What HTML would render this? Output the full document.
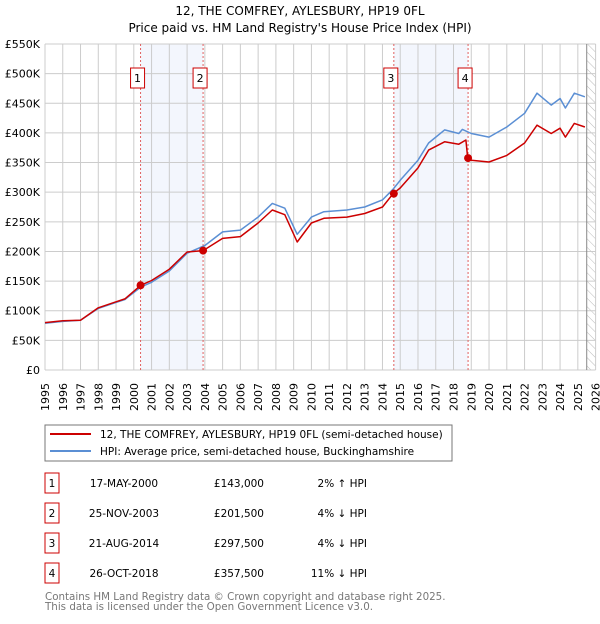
<!DOCTYPE html>
<html><head><meta charset="utf-8"><style>
body{margin:0;background:#fff;font-family:"DejaVu Sans","Liberation Sans",sans-serif;}
svg text{font-family:"DejaVu Sans","Liberation Sans",sans-serif;}
</style></head><body>
<svg id="c" width="600" height="620" viewBox="0 0 600 620">
<defs><pattern id="hatch" width="6" height="6" patternUnits="userSpaceOnUse" patternTransform="rotate(-45)"><line x1="0" y1="0" x2="0" y2="6" stroke="#bbb" stroke-width="1"/></pattern></defs>
<text x="300" y="15" text-anchor="middle" font-size="12">12, THE COMFREY, AYLESBURY, HP19 0FL</text>
<text x="300" y="32" text-anchor="middle" font-size="12">Price paid vs. HM Land Registry's House Price Index (HPI)</text>
<g id="plot"></g>
<g>
<rect x="45" y="425" width="407" height="36" fill="#fff" stroke="#777" stroke-width="1"/>
<line x1="50" y1="434" x2="91" y2="434" stroke="#cc0000" stroke-width="2"/>
<text x="100" y="438" font-size="10.5">12, THE COMFREY, AYLESBURY, HP19 0FL (semi-detached house)</text>
<line x1="50" y1="451" x2="91" y2="451" stroke="#5b8fd4" stroke-width="2"/>
<text x="100" y="455" font-size="10.5">HPI: Average price, semi-detached house, Buckinghamshire</text>
</g>
<g id="table"></g>
<text x="45" y="600" font-size="10.3" fill="#777">Contains HM Land Registry data © Crown copyright and database right 2025.</text>
<text x="45" y="610" font-size="10.3" fill="#777">This data is licensed under the Open Government Licence v3.0.</text>
</svg>
<script>
const hpiYears=[1995,1996,1997,1998,1999,1999.5,2000.4,2001,2002,2003,2004,2005,2006,2007,2007.8,2008.5,2009.2,2010,2010.7,2012,2013,2014,2014.6,2015,2016,2016.6,2017.5,2018.3,2018.5,2019,2020,2021,2022,2022.7,2023.5,2024,2024.3,2024.8,2025.4];
const hpiValues=[79,82,84,104,114,119,140,148,167,197,210,233,236,258,281,273,229,258,267,270,275,287,305,320,354,383,405,399,406,399,393,410,433,467,447,458,442,467,461];
const propYears=[1995,1996,1997,1998,1999,1999.5,2000.4,2001,2002,2003,2003.9,2005,2006,2007,2007.8,2008.5,2009.2,2010,2010.7,2012,2013,2014,2014.6,2015,2016,2016.6,2017.5,2018.3,2018.7,2018.8,2019,2020,2021,2022,2022.7,2023.5,2024,2024.3,2024.8,2025.4];
const propValues=[80,83,84,105,115,120,143,151,170,199,201.5,222,225,248,270,262,216,248,256,258,264,275,297.5,307,341,371,385,381,388,357.5,354,351,362,383,413,399,408,393,416,410];
const saleYears=[2000.38,2003.9,2014.64,2018.82];
const saleValues=[143,201.5,297.5,357.5];
const saleLabels=["1","2","3","4"];
const saleDates=["17-MAY-2000","25-NOV-2003","21-AUG-2014","26-OCT-2018"];
const salePrices=["£143,000","£201,500","£297,500","£357,500"];
const saleHpi=["2% ↑ HPI","4% ↓ HPI","4% ↓ HPI","11% ↓ HPI"];
const yTicks=[0,50,100,150,200,250,300,350,400,450,500,550];
const yTickLabels=["£0","£50K","£100K","£150K","£200K","£250K","£300K","£350K","£400K","£450K","£500K","£550K"];
const xTicks=[];for(let y=1995;y<=2026;y++)xTicks.push(y);

const NS="http://www.w3.org/2000/svg";
const X0=45,X1=595.6,Y0=370,Y1=44;
const xs=v=>X0+(v-1995)/31*(X1-X0);
const ys=v=>Y0-v/550*(Y0-Y1);
const plot=document.getElementById('plot');
function mk(tag,attrs,parent){const e=document.createElementNS(NS,tag);for(const k in attrs)e.setAttribute(k,attrs[k]);(parent||plot).appendChild(e);return e;}
for(let i=0;i<4;i+=2){const r=mk('rect',{x:xs(saleYears[i]),y:Y1,width:xs(saleYears[i+1])-xs(saleYears[i]),height:Y0-Y1,fill:'#f3f6fd'});

}
const hz=mk('rect',{x:xs(2025.5),y:Y1,width:X1-xs(2025.5),height:Y0-Y1,fill:'url(#hatch)'});


xTicks.forEach((t,i)=>{const l=mk('line',{x1:xs(t),x2:xs(t),y1:Y1,y2:Y0,stroke:'#ccc','stroke-width':1});


const x=xs(t),tx=mk('text',{x:0,y:0,'font-size':11,'text-anchor':'end',transform:`translate(${x+4},383) rotate(-90)`});tx.textContent=t;

});
yTicks.forEach((t,i)=>{const l=mk('line',{x1:X0,x2:X1,y1:ys(t),y2:ys(t),stroke:'#ccc','stroke-width':1});


const tx=mk('text',{x:40,y:ys(t)+4,'font-size':11,'text-anchor':'end'});tx.textContent=yTickLabels[i];

});
const vl=mk('line',{x1:xs(2025.5),x2:xs(2025.5),y1:Y1,y2:Y0,stroke:'#888','stroke-width':1});


saleYears.forEach((s,i)=>{const l=mk('line',{x1:xs(s),x2:xs(s),y1:Y1,y2:Y0,stroke:'#e06060','stroke-width':1,'stroke-dasharray':'2,2'});


const bx=xs(s)-3;const r=mk('rect',{x:bx-7,y:68,width:14,height:20,fill:'#fff',stroke:'#cc0000','stroke-width':1});


const t=mk('text',{x:bx,y:82,'font-size':11,'text-anchor':'middle'});t.textContent=saleLabels[i];

});
function path(xa,va,color,name){const d=xa.map((x,i)=>(i?'L':'M')+xs(x).toFixed(1)+','+ys(va[i]).toFixed(1)).join('');
const p=mk('path',{d:d,fill:'none',stroke:color,'stroke-width':1.5,'stroke-linejoin':'round'});

}
path(hpiYears,hpiValues,'#5b8fd4','hpi-line');
path(propYears,propValues,'#cc0000','property-price-line');
saleYears.forEach((s,i)=>{const c=mk('circle',{cx:xs(s),cy:ys(saleValues[i]),r:4,fill:'#cc0000'});

});
const tb=document.getElementById('table');
saleLabels.forEach((lab,i)=>{const cy=483+i*30;
const r=mk('rect',{x:45,y:cy-10,width:14,height:20,fill:'#fff',stroke:'#cc0000','stroke-width':1},tb);


const vals=[[52,lab,'middle'],[124,saleDates[i],'middle'],[264,salePrices[i],'end'],[367,saleHpi[i],'end']];
vals.forEach(v=>{const t=mk('text',{x:v[0],y:cy+4,'font-size':10.5,'text-anchor':v[2]},tb);t.textContent=v[1];

});});
</script>
</body></html>
